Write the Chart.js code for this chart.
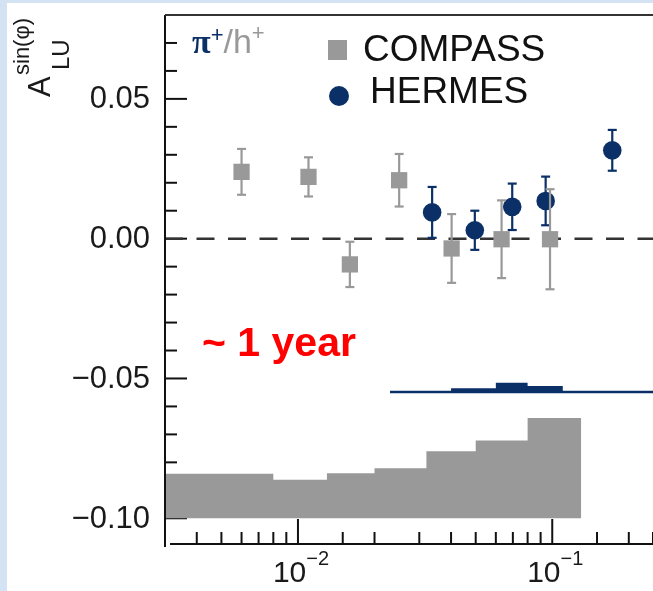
<!DOCTYPE html>
<html>
<head>
<meta charset="utf-8">
<script src="https://cdn.jsdelivr.net/npm/chart.js@4.4.1/dist/chart.umd.min.js"></script>
<style>
  html, body { margin: 0; padding: 0; background: #fff; }
  canvas { display: block; }
</style>
</head>
<body>
<canvas id="chart" width="653" height="591"></canvas>
<script>
// COMPASS h+ points
var compassX   = [0.0060, 0.0110, 0.0160, 0.0250, 0.0402, 0.0632, 0.0980];
var compassY   = [0.0239, 0.0221, -0.0092, 0.0209, -0.0035, -0.0002, -0.0002];
var compassErr = [0.0082, 0.0070, 0.0081, 0.0094, 0.0123, 0.0139, 0.0179];

// HERMES pi+ points
var hermesX   = [0.0337, 0.0496, 0.0696, 0.0942, 0.1722];
var hermesY   = [0.0094, 0.0030, 0.0114, 0.0135, 0.0316];
var hermesErr = [0.0091, 0.0070, 0.0083, 0.0087, 0.0073];

// systematic bands: bin edges, top of each bin, base
var compassSysEdges = [0.003, 0.008, 0.013, 0.020, 0.032, 0.050, 0.080, 0.130];
var compassSysTop   = [-0.0841, -0.0862, -0.0839, -0.0821, -0.0760, -0.0722, -0.0641];
var compassSysBase  = -0.10;

var hermesSysEdges = [0.023, 0.040, 0.060, 0.080, 0.110, 0.300];
var hermesSysTop   = [-0.0544, -0.0535, -0.0515, -0.0527, -0.0544];
var hermesSysBase  = -0.0553;

// tick labels
var yTickValues = [0.05, 0.00, -0.05, -0.10];
var yTickText   = ['0.05', '0.00', '\u22120.05', '\u22120.10'];
var xTickValues = [0.01, 0.1];
var xTickExp    = ['\u22122', '\u22121'];

var GRAY = '#999999';
var NAVY = '#0b3068';
var SANS = '"Liberation Sans", Arial, sans-serif';

function points(xs, ys) {
  return xs.map(function(x, i) { return { x: x, y: ys[i] }; });
}

// stepped outline: one point per left edge, last edge repeats last top
function steps(edges, tops) {
  var pts = tops.map(function(t, i) { return { x: edges[i], y: t }; });
  pts.push({ x: edges[edges.length - 1], y: tops[tops.length - 1] });
  return pts;
}

function line(ctx, x1, y1, x2, y2) {
  ctx.beginPath();
  ctx.moveTo(x1, y1);
  ctx.lineTo(x2, y2);
  ctx.stroke();
}

var frame = {
  id: 'frame',

  beforeDraw: function(chart) {
    var ctx = chart.ctx;
    ctx.save();
    ctx.fillStyle = '#d4e3f4';
    ctx.fillRect(0, 0, chart.width, chart.height);
    ctx.fillStyle = '#ffffff';
    ctx.fillRect(7, 3, chart.width - 7, chart.height - 3);
    ctx.restore();
  },

  // tick marks and the zero line sit under the data
  beforeDatasetsDraw: function(chart) {
    var ctx = chart.ctx, a = chart.chartArea,
        xs = chart.scales.x, ys = chart.scales.y;
    ctx.save();
    ctx.strokeStyle = '#111';
    ctx.lineWidth = 2;

    for (var k = -10; k <= 8; k++) {
      var py = ys.getPixelForValue(k / 100);
      line(ctx, a.left, py, a.left + (k % 5 === 0 ? 22 : 12), py);
    }

    xs.ticks.forEach(function(t) {
      if (t.value <= xs.min) return;
      var px = xs.getPixelForValue(t.value),
          major = Math.abs(Math.log10(t.value) - Math.round(Math.log10(t.value))) < 1e-6;
      line(ctx, px, a.bottom, px, a.bottom - (major ? 25 : 12));
    });

    ctx.strokeStyle = '#333';
    ctx.lineWidth = 2.5;
    ctx.setLineDash([18, 13.5]);
    var zy = ys.getPixelForValue(0);
    line(ctx, a.left, zy, a.right, zy);
    ctx.restore();
  },

  // error bars drawn just before their markers
  beforeDatasetDraw: function(chart, args) {
    var ds = chart.data.datasets[args.index];
    if (!ds.errors) return;
    var ctx = chart.ctx, xs = chart.scales.x, ys = chart.scales.y;
    ctx.save();
    ctx.strokeStyle = ds.backgroundColor;
    ctx.lineWidth = 2.2;
    ds.data.forEach(function(p, i) {
      var px = xs.getPixelForValue(p.x),
          top = ys.getPixelForValue(p.y + ds.errors[i]),
          bot = ys.getPixelForValue(p.y - ds.errors[i]);
      line(ctx, px, top, px, bot);
      line(ctx, px - 4.5, top, px + 4.5, top);
      line(ctx, px - 4.5, bot, px + 4.5, bot);
    });
    ctx.restore();
  },

  afterDatasetsDraw: function(chart) {
    var ctx = chart.ctx, a = chart.chartArea;
    ctx.save();
    ctx.strokeStyle = '#111';
    ctx.lineWidth = 2;
    line(ctx, a.left, a.top, a.left, a.bottom + 3);
    line(ctx, a.left + 5, a.bottom, a.right, a.bottom);
    ctx.strokeStyle = '#333';
    line(ctx, a.left, a.top, a.right, a.top);
    ctx.restore();
  },

  afterDraw: function(chart) {
    var ctx = chart.ctx, a = chart.chartArea,
        xs = chart.scales.x, ys = chart.scales.y;
    ctx.save();
    ctx.fillStyle = '#1a1a1a';

    // y tick labels
    ctx.font = '31px ' + SANS;
    ctx.textAlign = 'right';
    ctx.textBaseline = 'middle';
    yTickValues.forEach(function(v, i) {
      ctx.fillText(yTickText[i], a.left - 15, ys.getPixelForValue(v) + 1);
    });

    // x tick labels: 10 with superscript exponent, centred on the decade
    ctx.textAlign = 'left';
    ctx.textBaseline = 'alphabetic';
    xTickValues.forEach(function(v, i) {
      ctx.font = '30px ' + SANS;
      var w1 = ctx.measureText('10').width;
      ctx.font = '20px ' + SANS;
      var w2 = ctx.measureText(xTickExp[i]).width;
      var x0 = xs.getPixelForValue(v) - (w1 + w2) / 2 + 3;
      ctx.font = '30px ' + SANS;
      ctx.fillText('10', x0, a.bottom + 38);
      ctx.font = '20px ' + SANS;
      ctx.fillText(xTickExp[i], x0 + w1, a.bottom + 21);
    });

    // y title A_LU^sin(phi), rotated
    ctx.save();
    ctx.translate(50, 97);
    ctx.rotate(-Math.PI / 2);
    ctx.font = '31px ' + SANS;
    ctx.fillText('A', 0, 0);
    ctx.font = '22px ' + SANS;
    ctx.fillText('sin(\u03c6)', 22, -21);
    ctx.font = '24px ' + SANS;
    ctx.fillText('LU', 27, 19);
    ctx.restore();

    // pi+/h+ label
    var x = 192;
    ctx.fillStyle = NAVY;
    ctx.font = 'bold 34px "Liberation Serif", serif';
    ctx.fillText('\u03c0', x, 53);
    x += ctx.measureText('\u03c0').width;
    ctx.font = '22px ' + SANS;
    ctx.fillText('+', x, 42);
    x += ctx.measureText('+').width;
    ctx.fillStyle = GRAY;
    ctx.font = '34px ' + SANS;
    ctx.fillText('/h', x, 53);
    x += ctx.measureText('/h').width;
    ctx.font = '22px ' + SANS;
    ctx.fillText('+', x, 40);

    // legend
    ctx.fillStyle = GRAY;
    ctx.fillRect(328, 40, 19, 20);
    ctx.fillStyle = NAVY;
    ctx.beginPath();
    ctx.arc(339, 96, 10, 0, Math.PI * 2);
    ctx.fill();
    ctx.fillStyle = '#111';
    ctx.font = '37px ' + SANS;
    ctx.fillText(chart.data.datasets[2].label, 363, 61);
    ctx.fillText(chart.data.datasets[3].label, 370, 103);

    // annotation
    ctx.fillStyle = '#ff0000';
    ctx.font = 'bold 41px ' + SANS;
    ctx.fillText('~ 1 year', 202, 356);
    ctx.restore();
  }
};

new Chart(document.getElementById('chart'), {
  type: 'scatter',
  data: {
    datasets: [
      {
        label: 'COMPASS sys',
        type: 'line',
        data: steps(compassSysEdges, compassSysTop),
        stepped: true,
        fill: { value: compassSysBase },
        backgroundColor: GRAY,
        borderColor: 'transparent',
        borderWidth: 0,
        pointRadius: 0
      },
      {
        label: 'HERMES sys',
        type: 'line',
        data: steps(hermesSysEdges, hermesSysTop),
        stepped: true,
        fill: { value: hermesSysBase },
        backgroundColor: NAVY,
        borderColor: 'transparent',
        borderWidth: 0,
        pointRadius: 0
      },
      {
        label: 'COMPASS',
        data: points(compassX, compassY),
        errors: compassErr,
        pointStyle: 'rect',
        pointRadius: 11.5,
        backgroundColor: GRAY,
        borderWidth: 0
      },
      {
        label: 'HERMES',
        data: points(hermesX, hermesY),
        errors: hermesErr,
        pointStyle: 'circle',
        pointRadius: 9.3,
        backgroundColor: NAVY,
        borderWidth: 0
      }
    ]
  },
  options: {
    responsive: false,
    animation: false,
    devicePixelRatio: 1,
    layout: {
      autoPadding: false,
      padding: { top: 15, right: 0, bottom: 0, left: 0 }
    },
    plugins: {
      legend: { display: false },
      tooltip: { enabled: false }
    },
    scales: {
      x: {
        type: 'logarithmic',
        min: 0.003,
        max: 0.249,
        grid: { display: false, drawTicks: false },
        border: { display: false },
        ticks: { display: false, autoSkip: false },
        afterFit: function(s) { s.height = 47; s.paddingLeft = 0; s.paddingRight = 0; }
      },
      y: {
        min: -0.1092,
        max: 0.08,
        grid: { display: false, drawTicks: false },
        border: { display: false },
        ticks: { display: false },
        afterFit: function(s) { s.width = 165; s.paddingTop = 0; s.paddingBottom = 0; }
      }
    }
  },
  plugins: [frame]
});
</script>
</body>
</html>
